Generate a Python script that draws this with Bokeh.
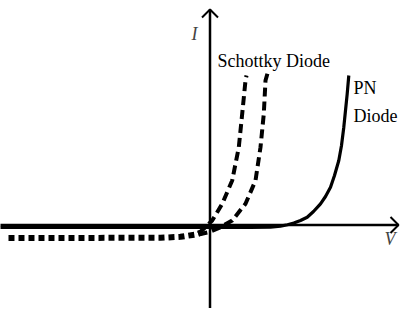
from bokeh.plotting import figure
from bokeh.models import Range1d, Label
from bokeh.embed import file_html
from bokeh.resources import INLINE

# Schematic I-V characteristics (V to the right, I upward; arbitrary units)
pn_v = [-212, 40, 60, 70, 77, 83.3, 90, 96.7, 103, 110, 115, 120, 124, 128.3,
        131, 133.3, 135, 136.7, 138.3]
pn_i = [-2, -2, -1.6, -0.6, 0.8, 2.5, 5, 8.3, 14, 21.7, 29, 38.3, 50, 65,
        80, 98.3, 115, 131.7, 150]

sch_rev_v = [-202, -50, -30, -15, -8]
sch_rev_i = [-12.5, -12.3, -11.3, -9, -6.5]

sch_a_v = [-12, -7, 1.7, 11.7, 21.7, 28.3, 31.7, 35, 36]
sch_a_i = [-8, -3.5, 5, 21.7, 45, 78.3, 111.7, 145, 150]

sch_b_v = [-12, -1.7, 10, 21.7, 35, 45, 50, 53.3, 55, 57]
sch_b_i = [-9, -6.7, -1.7, 5, 21.7, 45, 78.3, 111.7, 145, 152]

labels = ["Schottky Diode", "PN", "Diode"]
label_v = [7, 143, 143]
label_i = [165, 138, 110]

V_MIN, V_MAX = -212, 188
I_MIN, I_MAX = -100, 216

FONT = "'Liberation Serif', 'Times New Roman', serif"

p = figure(width=400, height=308, output_backend="svg", toolbar_location=None,
           x_range=Range1d(-210, 190), y_range=Range1d(-83, 225),
           x_axis_location=None, y_axis_location=None, min_border=0)
p.outline_line_color = None
p.grid.visible = False
p.background_fill_color = "white"

# axes
p.line([V_MIN, V_MAX], [0.5, 0.5], line_color="black", line_width=2.5)
p.line([-0.5, -0.5], [I_MIN, I_MAX], line_color="black", line_width=2.5)
h = 8
p.line([V_MAX - h, V_MAX, V_MAX - h], [0.5 + h, 0.5, 0.5 - h], line_color="black", line_width=2)
p.line([-0.5 - h, -0.5, -0.5 + h], [I_MAX - h, I_MAX, I_MAX - h], line_color="black", line_width=2)

# curves
p.line(pn_v, pn_i, line_color="black", line_width=3.2)
p.line(sch_rev_v, sch_rev_i, line_color="black", line_width=6, line_dash="6 4")
p.line(sch_a_v, sch_a_i, line_color="black", line_width=4, line_dash="9 5")
p.line(sch_b_v, sch_b_i, line_color="black", line_width=4, line_dash="9 5")

for t, x, y in zip(labels, label_v, label_i):
    p.add_layout(Label(x=x, y=y, text=t, text_font=FONT,
                       text_font_size="18px", text_baseline="alphabetic",
                       text_color="black"))

p.add_layout(Label(x=-19, y=192, text="I", text_font=FONT,
                   text_font_size="18px", text_font_style="italic",
                   text_baseline="alphabetic"))
p.add_layout(Label(x=174, y=-13, text="V", text_font=FONT,
                   text_font_size="18px", text_font_style="italic",
                   text_baseline="alphabetic"))

open("out.html", "w").write(file_html(p, INLINE))
